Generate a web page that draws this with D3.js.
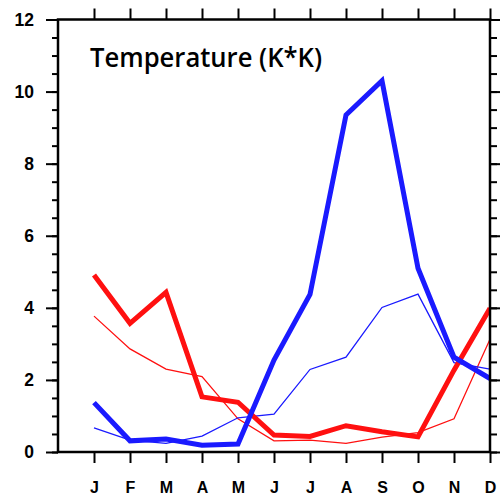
<!DOCTYPE html>
<html>
<head>
<meta charset="utf-8">
<script src="https://cdn.jsdelivr.net/npm/d3@7"></script>
<style>
  html, body { margin: 0; padding: 0; background: #fff; }
  svg { display: block; }
</style>
</head>
<body>
<svg id="chart" width="500" height="497"></svg>
<script>
// Monthly values, January to December
const months = ["J", "F", "M", "A", "M", "J", "J", "A", "S", "O", "N", "D"];
const blueThick = [1.37, 0.31, 0.36, 0.19, 0.22, 2.55, 4.37, 9.35, 10.30, 5.10, 2.63, 2.04];
const blueThin  = [0.67, 0.33, 0.24, 0.44, 0.95, 1.05, 2.29, 2.63, 4.01, 4.38, 2.48, 2.30];
const redThick  = [4.91, 3.57, 4.43, 1.53, 1.38, 0.47, 0.43, 0.73, 0.56, 0.42, 2.27, 3.99];
const redThin   = [3.77, 2.86, 2.30, 2.09, 0.92, 0.31, 0.33, 0.24, 0.41, 0.54, 0.92, 3.13];
const yTicks = [0, 2, 4, 6, 8, 10, 12];
const titleText = "Temperature (K*K)";

const svg = d3.select("#chart");
const plotLeft = 58, plotRight = 490, plotTop = 19.5, plotBottom = 452;

const x = d3.scaleLinear().domain([-1, 11]).range([plotLeft, plotRight]);
const y = d3.scaleLinear().domain([0, 12]).range([plotBottom, plotTop]);

// Clip region for data lines
svg.append("defs").append("clipPath").attr("id", "plotClip")
  .append("rect").attr("x", plotLeft).attr("y", plotTop)
  .attr("width", plotRight - plotLeft).attr("height", plotBottom - plotTop);

const series = [
  { values: redThin,   color: "#ff1010", width: 1.3 },
  { values: blueThin,  color: "#1a1aff", width: 1.3 },
  { values: redThick,  color: "#ff1010", width: 5 },
  { values: blueThick, color: "#1a1aff", width: 5 }
];

const line = d3.line().x((d, i) => x(i)).y(d => y(d));
const g = svg.append("g").attr("clip-path", "url(#plotClip)");
series.forEach(s => {
  g.append("path")
    .datum(s.values)
    .attr("d", line)
    .attr("fill", "none")
    .attr("stroke", s.color)
    .attr("stroke-width", s.width)
    .attr("stroke-linejoin", "miter");
});

const minorTicks = d3.range(0, 12.01, 0.5);
const monthIdx = d3.range(months.length);

// Axes (ticks pointing outward on all four sides)
const styleAxis = sel => {
  sel.select(".domain").remove();
  sel.selectAll("line").attr("stroke", "#000").attr("stroke-width", 2);
};

// Minor y ticks
svg.append("g").attr("transform", `translate(${plotLeft},0)`)
  .call(d3.axisLeft(y).tickValues(minorTicks).tickSize(6).tickFormat(""))
  .call(styleAxis);
svg.append("g").attr("transform", `translate(${plotRight},0)`)
  .call(d3.axisRight(y).tickValues(minorTicks).tickSize(7).tickFormat(""))
  .call(styleAxis);

// Major y ticks with labels on the left
const yLeft = svg.append("g").attr("transform", `translate(${plotLeft},0)`)
  .call(d3.axisLeft(y).tickValues(yTicks).tickSize(12).tickPadding(12).tickFormat(d3.format("d")))
  .call(styleAxis);
yLeft.selectAll("text")
  .attr("font-family", "'Liberation Sans', Arial, sans-serif")
  .attr("font-weight", "bold")
  .attr("font-size", 17.5)
  .attr("fill", "#000");
svg.append("g").attr("transform", `translate(${plotRight},0)`)
  .call(d3.axisRight(y).tickValues(yTicks).tickSize(12).tickFormat(""))
  .call(styleAxis);

// Month ticks
const xBottom = svg.append("g").attr("transform", `translate(0,${plotBottom})`)
  .call(d3.axisBottom(x).tickValues(monthIdx).tickSize(11).tickPadding(19).tickFormat(i => months[i]))
  .call(styleAxis);
xBottom.selectAll("text")
  .attr("font-family", "'Liberation Sans', Arial, sans-serif")
  .attr("font-weight", "bold")
  .attr("font-size", 16)
  .attr("fill", "#000");
svg.append("g").attr("transform", `translate(0,${plotTop})`)
  .call(d3.axisTop(x).tickValues(monthIdx).tickSize(11).tickFormat(""))
  .call(styleAxis);

// Frame
svg.append("rect")
  .attr("x", plotLeft).attr("y", plotTop)
  .attr("width", plotRight - plotLeft).attr("height", plotBottom - plotTop)
  .attr("fill", "none").attr("stroke", "#000").attr("stroke-width", 2.5);

// Title inside the plot
svg.append("text")
  .attr("x", 90).attr("y", 67)
  .attr("font-family", "'Open Sans', sans-serif")
  .attr("font-weight", 600)
  .attr("font-size", 27)
  .attr("textLength", 232)
  .attr("lengthAdjust", "spacingAndGlyphs")
  .attr("fill", "#000")
  .text(titleText);
</script>
</body>
</html>
